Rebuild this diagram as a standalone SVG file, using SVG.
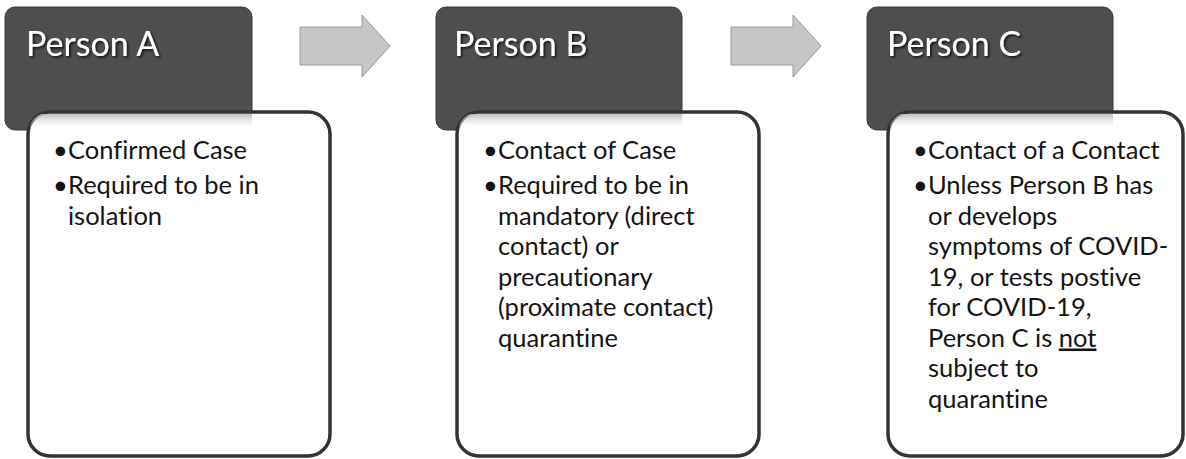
<svg xmlns="http://www.w3.org/2000/svg" width="1186" height="459" viewBox="0 0 1186 459">
<style>
.hdr{fill:#4e4e4e;stroke:#3a3a3a;stroke-width:1}
.box{fill:#ffffff;stroke:#333333;stroke-width:3.5}
.title{font-family:Lato,"Liberation Sans",Arial,sans-serif;font-size:34px;fill:#ffffff;filter:url(#ts);font-variant-ligatures:none}
.body{font-family:Lato,"Liberation Sans",Arial,sans-serif;font-size:25.5px;fill:#141414;font-variant-ligatures:none}
.arrow{fill:#c6c6c6;stroke:#9a9a9a;stroke-width:1}
.band{fill:url(#bandGrad)}
</style>
<defs>
<filter id="ts" x="-10%" y="-20%" width="130%" height="150%">
<feDropShadow dx="1.5" dy="1.5" stdDeviation="0.8" flood-color="#000000" flood-opacity="0.8"/>
</filter>
<linearGradient id="bandGrad" x1="0" y1="0" x2="0" y2="1">
<stop offset="0" stop-color="#b8b8b8" stop-opacity="0.9"/>
<stop offset="1" stop-color="#ffffff" stop-opacity="0"/>
</linearGradient>
<clipPath id="clipA"><rect x="28" y="112" width="302" height="344" rx="22"/></clipPath>
<clipPath id="clipB"><rect x="457" y="112" width="302" height="344" rx="22"/></clipPath>
<clipPath id="clipC"><rect x="888" y="112" width="295" height="344" rx="22"/></clipPath>
</defs>

<g id="connectors">
<path class="arrow" d="M300,27 H362 V15 L390,46 L362,77 V65 H300 Z"/>
<path class="arrow" d="M731,27 H793 V15 L821,46 L793,77 V65 H731 Z"/>
</g>

<g id="personA">
<rect class="hdr" x="5" y="7" width="247" height="123" rx="10"/>
<text class="title" x="26" y="56">Person A</text>
<rect class="box" x="28" y="112" width="302" height="344" rx="22"/>
<rect class="band" x="30" y="114" width="222" height="16" clip-path="url(#clipA)"/>
<text class="body" y="159"><tspan x="53">•</tspan><tspan x="68">Confirmed Case</tspan></text>
<text class="body" y="194"><tspan x="53">•</tspan><tspan x="68">Required to be in</tspan></text>
<text class="body" x="68" y="224.5">isolation</text>
</g>

<g id="personB">
<rect class="hdr" x="436" y="7" width="246" height="123" rx="10"/>
<text class="title" x="454" y="56">Person B</text>
<rect class="box" x="457" y="112" width="302" height="344" rx="22"/>
<rect class="band" x="459" y="114" width="223" height="16" clip-path="url(#clipB)"/>
<text class="body" y="159"><tspan x="483">•</tspan><tspan x="498">Contact of Case</tspan></text>
<text class="body" y="194"><tspan x="483">•</tspan><tspan x="498">Required to be in</tspan></text>
<text class="body" x="498" y="224.5">mandatory (direct</text>
<text class="body" x="498" y="255">contact) or</text>
<text class="body" x="498" y="285.5">precautionary</text>
<text class="body" x="498" y="316">(proximate contact)</text>
<text class="body" x="498" y="346.5">quarantine</text>
</g>

<g id="personC">
<rect class="hdr" x="867" y="7" width="246" height="123" rx="10"/>
<text class="title" x="887" y="56">Person C</text>
<rect class="box" x="888" y="112" width="295" height="344" rx="22"/>
<rect class="band" x="890" y="114" width="223" height="16" clip-path="url(#clipC)"/>
<text class="body" y="159"><tspan x="913">•</tspan><tspan x="928">Contact of a Contact</tspan></text>
<text class="body" y="194"><tspan x="913">•</tspan><tspan x="928">Unless Person B has</tspan></text>
<text class="body" x="928" y="224.5">or develops</text>
<text class="body" x="928" y="255">symptoms of COVID-</text>
<text class="body" x="928" y="285.5">19, or tests postive</text>
<text class="body" x="928" y="316">for COVID-19,</text>
<text class="body" x="928" y="346.5">Person C is <tspan text-decoration="underline">not</tspan></text>
<text class="body" x="928" y="377">subject to</text>
<text class="body" x="928" y="407.5">quarantine</text>
</g>
</svg>
